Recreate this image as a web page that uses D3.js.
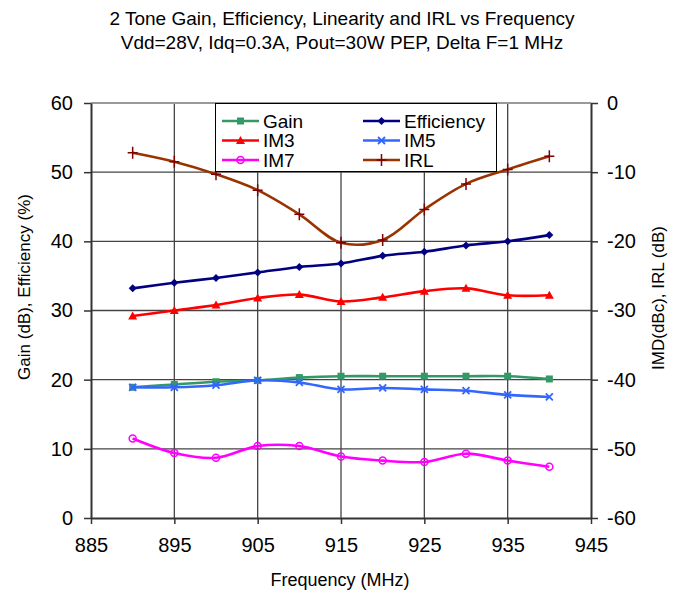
<!DOCTYPE html>
<meta charset="utf-8">
<title>2 Tone Gain, Efficiency, Linearity and IRL vs Frequency</title>
<style>
body { margin: 0; background: #fff; font-family: Arial, "Liberation Sans", sans-serif; }
svg text { fill: #000; }
</style>
<body>
<svg id="chart" width="678" height="596"></svg>
<script src="https://cdn.jsdelivr.net/npm/d3@7"></script>
<script>
// data
var freq = [890, 895, 900, 905, 910, 915, 920, 925, 930, 935, 940];
var gain = [18.9, 19.3, 19.7, 19.9, 20.3, 20.5, 20.5, 20.5, 20.5, 20.5, 20.1];
var efficiency = [33.2, 34.0, 34.7, 35.5, 36.3, 36.8, 37.9, 38.5, 39.4, 40.0, 40.9];
var im3 = [29.2, 30.0, 30.8, 31.8, 32.3, 31.3, 31.9, 32.8, 33.2, 32.2, 32.2];
// right axis series (dBc / dB)
var im5 = [-41.1, -41.1, -40.8, -40.1, -40.4, -41.4, -41.2, -41.4, -41.6, -42.2, -42.5];
var im7 = [-48.5, -50.6, -51.3, -49.6, -49.6, -51.1, -51.7, -51.9, -50.7, -51.7, -52.6];
var irl = [-7.2, -8.5, -10.3, -12.6, -16.1, -20.2, -19.8, -15.4, -11.7, -9.6, -7.7];

var xTicks = [885, 895, 905, 915, 925, 935, 945];
var leftTicks = [0, 10, 20, 30, 40, 50, 60];
var rightTicks = [-60, -50, -40, -30, -20, -10, 0];

var series = [
  {name: "Gain",       values: gain,       axis: "L", color: "#339966", mcolor: "#339966", marker: "square"},
  {name: "Efficiency", values: efficiency, axis: "L", color: "#000080", mcolor: "#000080", marker: "diamond"},
  {name: "IM3",        values: im3,        axis: "L", color: "#ff0000", mcolor: "#ff0000", marker: "triangle"},
  {name: "IM5",        values: im5,        axis: "R", color: "#3366ff", mcolor: "#3366ff", marker: "x"},
  {name: "IM7",        values: im7,        axis: "R", color: "#ff00ff", mcolor: "#ff00ff", marker: "circle"},
  {name: "IRL",        values: irl,        axis: "R", color: "#993300", mcolor: "#800000", marker: "plus"}
];

var svg = d3.select("#chart");
var pL = 91, pR = 591, pT = 103, pB = 518;

var x = d3.scaleLinear().domain([885, 945]).range([pL, pR]);
var yL = d3.scaleLinear().domain([0, 60]).range([pB, pT]);
var yR = d3.scaleLinear().domain([-60, 0]).range([pB, pT]);

// titles
svg.append("text").attr("x", 342).attr("y", 25).attr("text-anchor", "middle")
  .style("font-size", "19px").text("2 Tone Gain, Efficiency, Linearity and IRL vs Frequency");
svg.append("text").attr("x", 342).attr("y", 49).attr("text-anchor", "middle")
  .style("font-size", "19px").text("Vdd=28V, Idq=0.3A, Pout=30W PEP, Delta F=1 MHz");

// grid
var grid = svg.append("g").attr("stroke", "#444").attr("stroke-width", 1.3);
grid.selectAll(".vg").data(xTicks.slice(1, -1)).enter().append("line")
  .attr("x1", d => x(d)).attr("x2", d => x(d)).attr("y1", pT).attr("y2", pB);
grid.selectAll(".hg").data(leftTicks.slice(1, -1)).enter().append("line")
  .attr("x1", pL).attr("x2", pR).attr("y1", d => yL(d)).attr("y2", d => yL(d));

// top frame
svg.append("line").attr("x1", pL).attr("x2", pR).attr("y1", pT).attr("y2", pT)
  .attr("stroke", "#999").attr("stroke-width", 2);

// axes
var plain = d => String(d);   // plain hyphen for negatives, like the original
function styleAxis(g) {
  g.selectAll(".domain").attr("stroke", "#333").attr("stroke-width", 2);
  g.selectAll(".tick line").attr("stroke", "#333").attr("stroke-width", 1.5);
  g.selectAll(".tick text").style("font-size", "20px").style("font-family", "Arial, 'Liberation Sans', sans-serif").attr("fill", "#000");
}
svg.append("g").attr("transform", "translate(0," + pB + ")")
  .call(d3.axisBottom(x).tickValues(xTicks).tickFormat(plain).tickSize(6).tickSizeOuter(0).tickPadding(14))
  .call(styleAxis);
svg.append("g").attr("transform", "translate(" + pL + ",0)")
  .call(d3.axisLeft(yL).tickValues(leftTicks).tickFormat(plain).tickSize(7).tickSizeOuter(0).tickPadding(11))
  .call(styleAxis);
svg.append("g").attr("transform", "translate(" + pR + ",0)")
  .call(d3.axisRight(yR).tickValues(rightTicks).tickFormat(plain).tickSize(7).tickSizeOuter(0).tickPadding(9))
  .call(styleAxis);

// axis titles
svg.append("text").attr("x", 340).attr("y", 586).attr("text-anchor", "middle")
  .style("font-size", "18px").text("Frequency (MHz)");
svg.append("text").attr("transform", "translate(30,287) rotate(-90)").attr("text-anchor", "middle")
  .style("font-size", "17px").text("Gain (dB), Efficiency (%)");
svg.append("text").attr("transform", "translate(664,298) rotate(-90)").attr("text-anchor", "middle")
  .style("font-size", "17px").text("IMD(dBc), IRL (dB)");

// markers
function drawMarker(g, type, color) {
  if (type === "square") g.append("rect").attr("x", -3.5).attr("y", -3.5).attr("width", 7).attr("height", 7).attr("fill", color);
  if (type === "diamond") g.append("path").attr("d", "M0,-4L4,0L0,4L-4,0Z").attr("fill", color);
  if (type === "triangle") g.append("path").attr("d", "M0,-4.5L4.5,3.5L-4.5,3.5Z").attr("fill", color);
  if (type === "x") g.append("path").attr("d", "M-3.5,-3.5L3.5,3.5M-3.5,3.5L3.5,-3.5").attr("stroke", color).attr("stroke-width", 1.8);
  if (type === "circle") g.append("circle").attr("r", 3.5).attr("fill", "none").attr("stroke", color).attr("stroke-width", 1.5);
  if (type === "plus") g.append("path").attr("d", "M-5,0L5,0M0,-6L0,6").attr("stroke", color).attr("stroke-width", 1.5);
}

var line = d3.line().curve(d3.curveCatmullRom.alpha(0.5));
series.forEach(function(s) {
  var ys = s.axis === "L" ? yL : yR;
  var pts = freq.map((f, i) => [x(f), ys(s.values[i])]);
  svg.append("path").attr("d", line(pts)).attr("fill", "none")
    .attr("stroke", s.color).attr("stroke-width", 2.6);
  pts.forEach(function(p) {
    drawMarker(svg.append("g").attr("transform", "translate(" + p[0] + "," + p[1] + ")"), s.marker, s.mcolor);
  });
});

// legend
var lg = svg.append("g");
lg.append("rect").attr("x", 215.5).attr("y", 103.5).attr("width", 281).attr("height", 68)
  .attr("fill", "#fff").attr("stroke", "#000").attr("stroke-width", 1);
series.forEach(function(s, i) {
  var col = i % 2, row = Math.floor(i / 2);
  var lx = col === 0 ? 222 : 363, ly = 121 + row * 19.5;
  lg.append("line").attr("x1", lx).attr("x2", lx + 37).attr("y1", ly).attr("y2", ly)
    .attr("stroke", s.color).attr("stroke-width", 2.6);
  drawMarker(lg.append("g").attr("transform", "translate(" + (lx + 18.5) + "," + ly + ")"), s.marker, s.mcolor);
  lg.append("text").attr("x", lx + 41).attr("y", ly).attr("dy", "0.35em")
    .style("font-size", "19px").text(s.name);
});
</script>
</body>
